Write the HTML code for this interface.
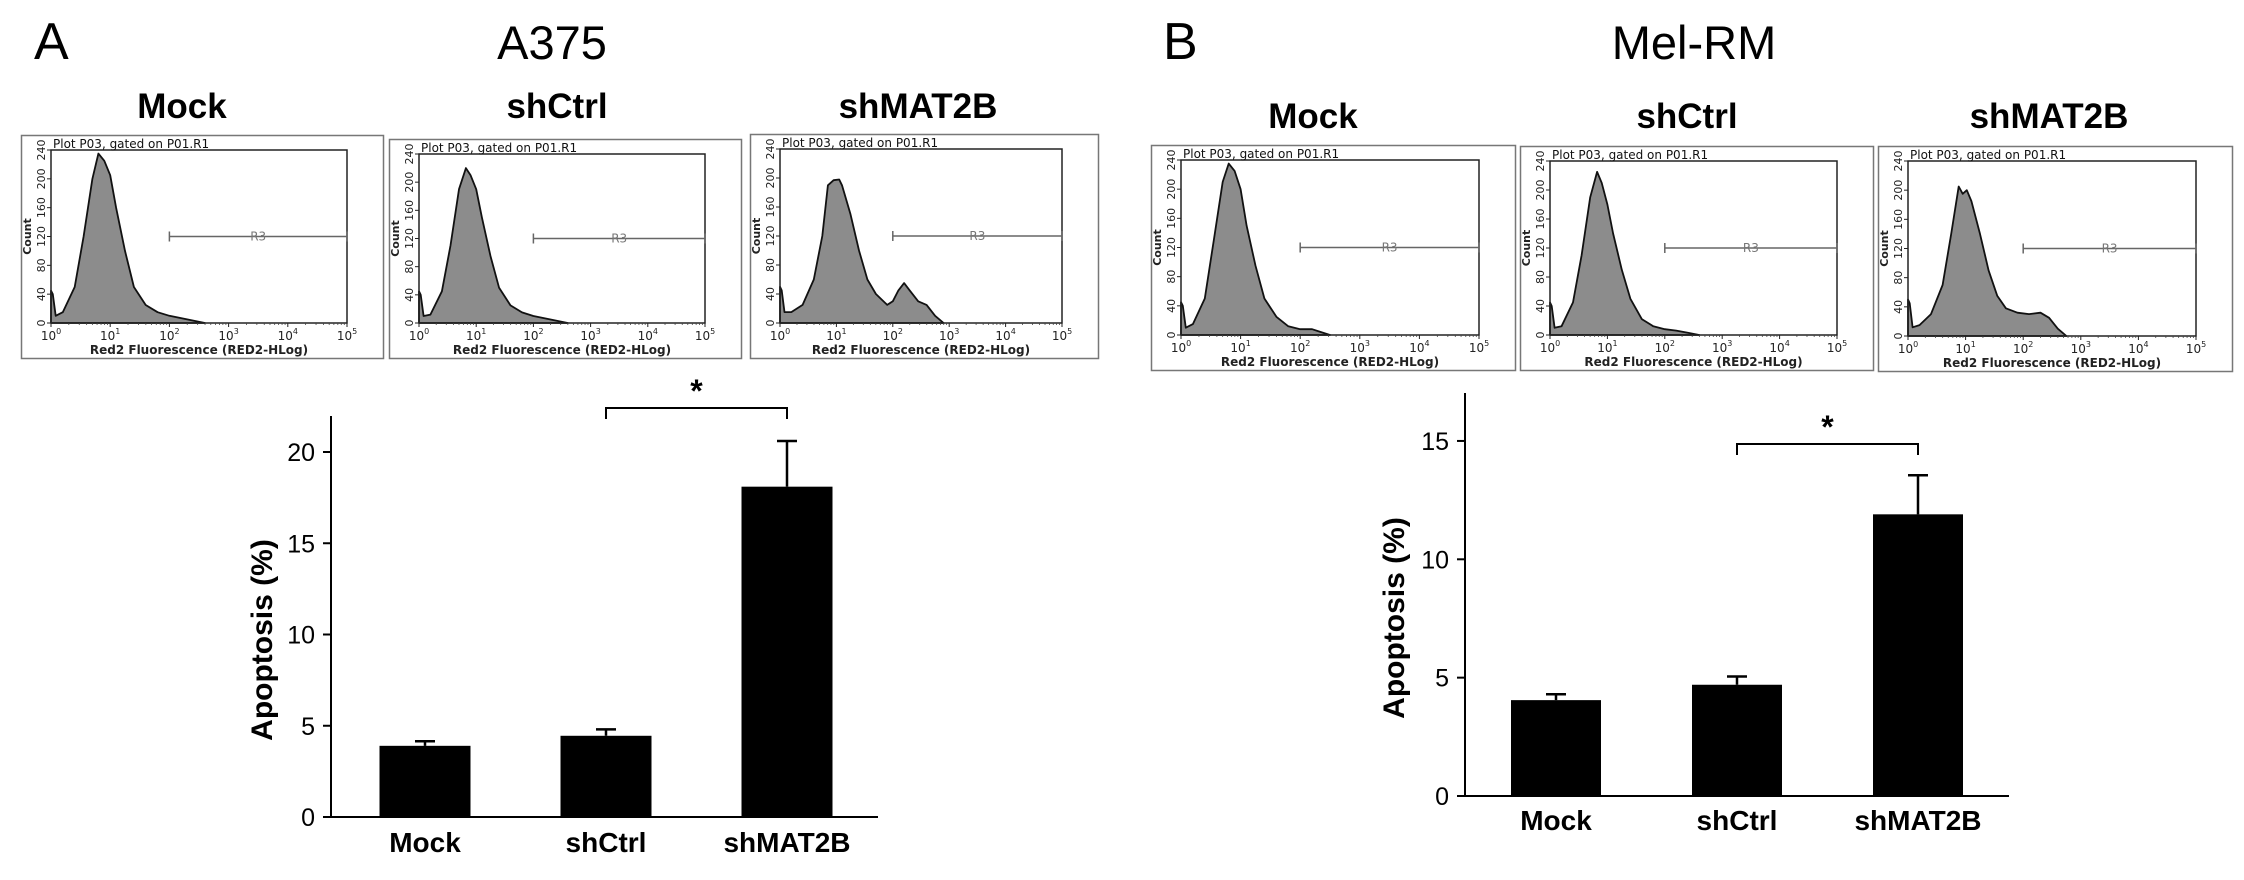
<!DOCTYPE html>
<html><head><meta charset="utf-8">
<style>
html,body{margin:0;padding:0;background:#fff;}
svg{display:block;font-family:"Liberation Sans",Arial,sans-serif;}
.hf{font-family:"DejaVu Sans",sans-serif;}
</style></head>
<body>
<svg id="fig" width="2244" height="880" viewBox="0 0 2244 880" xmlns="http://www.w3.org/2000/svg">
  <text x="34" y="59" font-size="52">A</text>
  <text x="552" y="59" font-size="47" text-anchor="middle">A375</text>
  <text x="1163" y="59" font-size="52">B</text>
  <text x="1694" y="59" font-size="47" text-anchor="middle">Mel-RM</text>
  <g id="layer"></g>
</svg>
<script>
// ---- histogram data (log10 fluorescence, count) ----
const histA_mock_x = [0,0.03,0.08,0.2,0.4,0.55,0.7,0.8,0.9,1.0,1.1,1.25,1.4,1.6,1.8,2.0,2.3,2.6];
const histA_mock_y = [45,40,10,15,50,120,200,235,225,205,160,100,50,25,15,10,5,0];
const histA_ctrl_x = [0,0.03,0.08,0.2,0.4,0.55,0.7,0.82,0.9,1.0,1.1,1.25,1.4,1.6,1.8,2.0,2.3,2.6];
const histA_ctrl_y = [45,40,10,12,45,110,190,220,210,190,150,95,50,25,15,10,5,0];
const histA_mat_x = [0,0.03,0.08,0.2,0.4,0.6,0.75,0.85,0.95,1.05,1.1,1.25,1.4,1.55,1.7,1.9,2.0,2.1,2.2,2.3,2.45,2.6,2.75,2.9];
const histA_mat_y = [50,45,15,15,25,60,120,190,197,198,190,150,100,60,40,25,30,45,55,45,30,25,10,0];
const histB_mock_x = [0,0.03,0.08,0.2,0.4,0.55,0.7,0.8,0.9,1.0,1.1,1.25,1.4,1.6,1.8,2.0,2.2,2.35,2.5];
const histB_mock_y = [45,40,10,15,50,130,210,235,225,200,150,95,50,25,12,8,8,4,0];
const histB_ctrl_x = [0,0.03,0.08,0.2,0.4,0.55,0.7,0.82,0.9,1.0,1.1,1.25,1.4,1.6,1.8,2.0,2.2,2.4,2.6];
const histB_ctrl_y = [45,40,10,12,45,110,190,225,210,180,140,90,50,22,12,8,6,3,0];
const histB_mat_x = [0,0.03,0.08,0.2,0.4,0.6,0.75,0.88,0.95,1.02,1.1,1.25,1.4,1.55,1.7,1.9,2.1,2.3,2.45,2.6,2.75];
const histB_mat_y = [50,45,12,15,30,70,140,205,195,200,185,140,90,55,38,32,30,32,25,10,0];
// ---- bar chart data ----
const categories = ["Mock","shCtrl","shMAT2B"];
const valuesA = [3.9,4.45,18.1];
const errorsA = [0.25,0.35,2.5];
const valuesB = [4.05,4.7,11.9];
const errorsB = [0.25,0.35,1.65];
const ticksA = [0,5,10,15,20];
const ticksB = [0,5,10,15];
const histTicksY = [0,40,80,120,160,200,240];
const histTicksX = [0,1,2,3,4,5];

const NS = "http://www.w3.org/2000/svg";
const layer = document.getElementById('layer');
function mk(tag, attrs, parent){
  const e = document.createElementNS(NS, tag);
  for (const k in attrs) e.setAttribute(k, attrs[k]);
  (parent||layer).appendChild(e);
  return e;
}

function histogram(ox0, oy0, ox1, oy1, xs, ys, name){
  const g = mk('g', {});
  
  
  const box = mk('rect', {x:ox0+0.5, y:oy0+0.5, width:ox1-ox0, height:oy1-oy0, fill:'#fff', stroke:'#777', 'stroke-width':1.5}, g);
  
  
  const px0 = ox0+30, px1 = ox1-36, py0 = oy0+15, py1 = oy1-35;
  const sx = v => px0 + v/5*(px1-px0);
  const sy = v => py1 - v/240*(py1-py0);
  // curve
  let d = 'M' + sx(xs[0]) + ',' + sy(0);
  for (let i=0;i<xs.length;i++) d += ' L' + sx(xs[i]).toFixed(1) + ',' + sy(ys[i]).toFixed(1);
  d += ' L' + sx(xs[xs.length-1]) + ',' + sy(0) + ' Z';
  const c = mk('path', {d:d, fill:'#8c8c8c', stroke:'#111', 'stroke-width':1.8, 'stroke-linejoin':'round'}, g);
  
  
  const pr = mk('rect', {x:px0, y:py0, width:px1-px0, height:py1-py0, fill:'none', stroke:'#222', 'stroke-width':1.5}, g);
  
  
  const t = mk('text', {x:px0+2, y:py0-2, 'font-size':12, class:'hf', fill:'#111'}, g);
  t.textContent = 'Plot P03, gated on P01.R1';
  
  
  histTicksY.forEach(v => {
    mk('line', {x1:px0-4, x2:px0, y1:sy(v), y2:sy(v), stroke:'#222', 'stroke-width':1}, g);
    const l = mk('text', {x:0, y:0, 'font-size':11, class:'hf', 'text-anchor':'middle', fill:'#222', transform:'translate('+(px0-6)+','+sy(v)+') rotate(-90)'}, g);
    l.textContent = v;
    
    
  });
  const cl = mk('text', {x:0, y:0, 'font-size':11, 'font-weight':'bold', class:'hf', 'text-anchor':'middle', fill:'#222', transform:'translate('+(px0-20)+','+((py0+py1)/2)+') rotate(-90)'}, g);
  cl.textContent = 'Count';
  
  
  histTicksX.forEach(v => {
    mk('line', {x1:sx(v), x2:sx(v), y1:py1, y2:py1+4, stroke:'#222', 'stroke-width':1}, g);
    if (v<5) for (let k=2;k<10;k++){ const xx = sx(v+Math.log10(k)); mk('line', {x1:xx, x2:xx, y1:py1, y2:py1+2, stroke:'#444', 'stroke-width':0.8}, g); }
    const l = mk('text', {x:sx(v), y:py1+17, 'font-size':12, class:'hf', 'text-anchor':'middle', fill:'#222'}, g);
    l.innerHTML = '10<tspan dy="-6" font-size="8">' + v + '</tspan>';
    
    
  });
  const xl = mk('text', {x:(px0+px1)/2, y:py1+31, 'font-size':12, 'font-weight':'bold', class:'hf', 'text-anchor':'middle', fill:'#222'}, g);
  xl.textContent = 'Red2 Fluorescence (RED2-HLog)';
  
  
  const gy = sy(120);
  const gate = mk('path', {d:'M'+sx(2)+','+gy+' H'+sx(5)+' M'+sx(2)+','+(gy-5)+' V'+(gy+5)+' M'+sx(5)+','+(gy-5)+' V'+(gy+5), stroke:'#666', 'stroke-width':1.5, fill:'none'}, g);
  
  
  const r3 = mk('text', {x:sx(3.5), y:gy+4, 'font-size':12, class:'hf', 'text-anchor':'middle', fill:'#777'}, g);
  r3.textContent = 'R3';
  
  
}

function header(text, cx, y){
  const t = mk('text', {x:cx, y:y, 'font-size':35, 'font-weight':'bold', 'text-anchor':'middle'});
  t.textContent = text;
  
  
}

function barChart(cfg, vals, errs, ticks, name){
  const g = mk('g', {});
  
  
  const y = v => cfg.y0 - v*cfg.ppu;
  const xc = i => cfg.c0 + i*cfg.step;
  mk('line', {x1:cfg.ax, x2:cfg.ax, y1:cfg.top, y2:cfg.y0+1, stroke:'#000', 'stroke-width':2}, g);
  mk('line', {x1:cfg.ax, x2:cfg.xend, y1:cfg.y0, y2:cfg.y0, stroke:'#000', 'stroke-width':2}, g);
  ticks.forEach(v => {
    mk('line', {x1:cfg.ax-8, x2:cfg.ax, y1:y(v), y2:y(v), stroke:'#000', 'stroke-width':2}, g);
    const l = mk('text', {x:cfg.ax-16, y:y(v)+9, 'font-size':25, 'text-anchor':'end'}, g);
    l.textContent = v;
    
    
  });
  vals.forEach((v,i) => {
    const b = mk('rect', {x:xc(i)-cfg.bw/2, y:y(v), width:cfg.bw, height:v*cfg.ppu, fill:'#000'}, g);
    
    
    const e = mk('path', {d:'M'+xc(i)+','+y(v)+' V'+y(v+errs[i])+' M'+(xc(i)-10)+','+y(v+errs[i])+' H'+(xc(i)+10), stroke:'#000', 'stroke-width':2.5, fill:'none'}, g);
    
    
    const l = mk('text', {x:xc(i), y:cfg.labY, 'font-size':28, 'font-weight':'bold', 'text-anchor':'middle'}, g);
    l.textContent = categories[i];
    
    
  });
  const yt = mk('text', {x:0, y:0, 'font-size':30, 'font-weight':'bold', 'text-anchor':'middle', transform:'translate('+cfg.tx+','+cfg.ty+') rotate(-90)'}, g);
  yt.textContent = 'Apoptosis (%)';
  
  
  const by = cfg.bry;
  const br = mk('path', {d:'M'+xc(1)+','+(by+11)+' V'+by+' H'+xc(2)+' V'+(by+11), stroke:'#000', 'stroke-width':2, fill:'none'}, g);
  
  
  const st = mk('text', {x:(xc(1)+xc(2))/2, y:by-6, 'font-size':32, 'font-weight':'bold', 'text-anchor':'middle'}, g);
  st.textContent = '*';
  
  
}

header('Mock', 182, 118); header('shCtrl', 557, 118); header('shMAT2B', 918, 118);
header('Mock', 1313, 128); header('shCtrl', 1687, 128); header('shMAT2B', 2049, 128);

histogram(21, 135, 383, 358, histA_mock_x, histA_mock_y, 'histogram-a375-mock');
histogram(389, 139, 741, 358, histA_ctrl_x, histA_ctrl_y, 'histogram-a375-shctrl');
histogram(750, 134, 1098, 358, histA_mat_x, histA_mat_y, 'histogram-a375-shmat2b');
histogram(1151, 145, 1515, 370, histB_mock_x, histB_mock_y, 'histogram-melrm-mock');
histogram(1520, 146, 1873, 370, histB_ctrl_x, histB_ctrl_y, 'histogram-melrm-shctrl');
histogram(1878, 146, 2232, 371, histB_mat_x, histB_mat_y, 'histogram-melrm-shmat2b');

barChart({ax:331, top:416, y0:817, ppu:18.25, xend:878, c0:425, step:181, bw:91, labY:852, tx:272, ty:640, bry:408}, valuesA, errorsA, ticksA, 'bar-chart-a375');
barChart({ax:1465, top:393, y0:796, ppu:23.67, xend:2009, c0:1556, step:181, bw:90, labY:830, tx:1404, ty:618, bry:444}, valuesB, errorsB, ticksB, 'bar-chart-melrm');
</script>
</body></html>
